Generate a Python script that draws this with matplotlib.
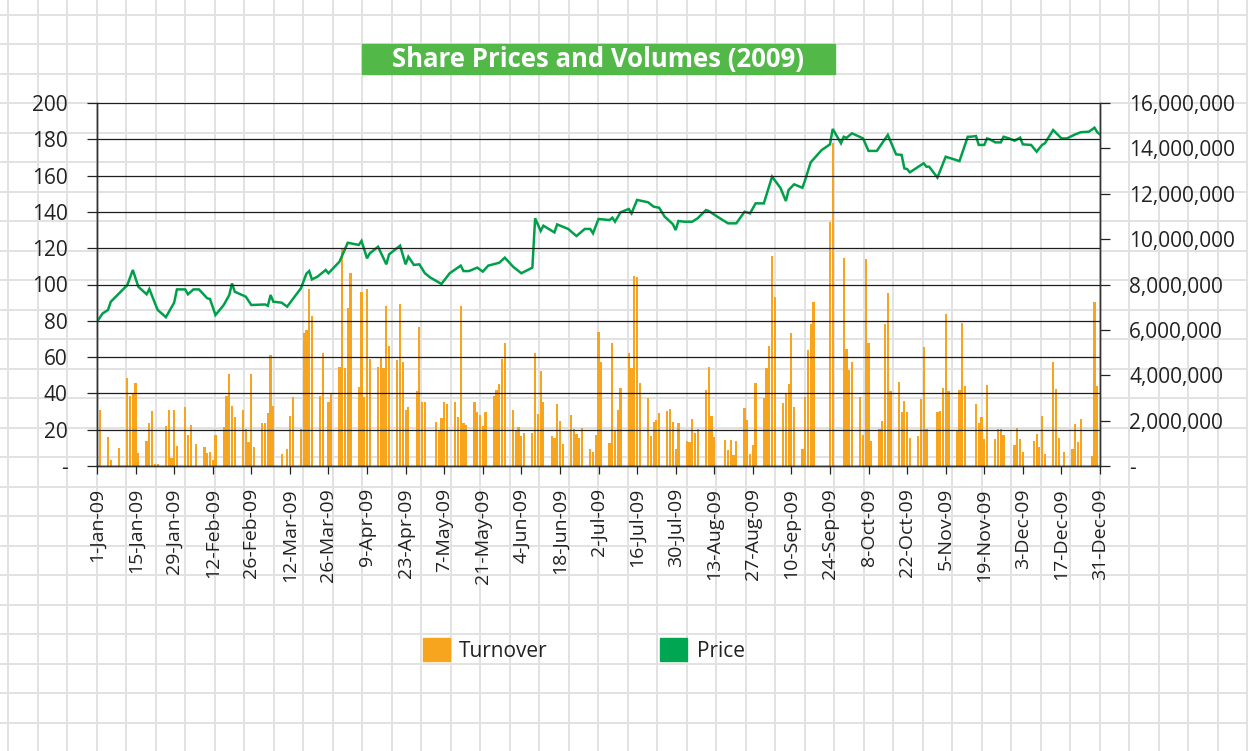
import matplotlib
matplotlib.use("Agg")
import matplotlib.pyplot as plt
from matplotlib.patches import Rectangle, Patch
import numpy as np
import datetime as dt

plt.rcParams['font.family'] = ['Open Sans', 'DejaVu Sans']

# ---------------- data (day offsets from 1-Jan-2009) ----------------
price_days = [0, 2, 4, 5, 11, 13, 15, 18, 19, 22, 25, 28, 29, 32, 33, 35, 37, 40, 41, 43,
              46, 48, 49, 50, 54, 56, 61, 62, 63, 64, 67, 69, 74, 76, 77, 78, 80, 83, 84, 88,
              91, 95, 96, 98, 99, 102, 105, 106, 110, 112, 113, 115, 117, 119, 121, 125, 128,
              132, 133, 135, 138, 140, 142, 146, 148, 151, 154, 158, 159, 161, 162, 166, 167,
              171, 174, 177, 179, 180, 182, 186, 187, 188, 190, 193, 194, 196, 200, 202, 204,
              206, 209, 210, 211, 213, 216, 218, 221, 222, 225, 229, 232, 235, 237, 239, 242,
              245, 248, 250, 251, 253, 256, 257, 259, 263, 266, 267, 270, 271, 272, 274, 278,
              280, 283, 287, 290, 292, 293, 294, 295, 300, 301, 302, 305, 308, 313, 316, 317,
              319, 320, 322, 323, 324, 326, 328, 329, 331, 333, 335, 336, 339, 341, 343, 344,
              347, 350, 352, 355, 357, 360, 362, 363, 364]
price_values = [79.5, 84, 86, 90.5, 99.7, 108, 98.8, 94.6, 97.5, 86, 82, 90, 97.3, 97.3, 94.6,
                97.3, 97.3, 92.4, 92, 83.2,
                88.7, 94.2, 100.6, 96, 93.3, 88.7, 89, 88.3, 94.2, 90.5, 90, 87.8, 97.9, 106,
                107.4, 102.8, 104.3, 108, 106.2, 112.6,
                123, 121.8, 124, 114.4, 117.2, 120.8, 111.1, 116.6, 121.4, 111.1, 115.3, 110.8,
                111.1, 106.2, 103.8, 100.3, 106.2,
                110.4, 107.4, 107.4, 109.3, 107.1, 110.4, 112, 114.8, 109.8, 106.2, 109.3, 136.5,
                129.5, 132.4, 128.7, 133.1,
                130.6, 126.7, 130.6, 130.6, 128.2, 136.1, 135.5, 136.8, 134.6, 139.8, 141.6,
                139.2, 146.6, 145.3, 142.9, 142.3,
                137.4, 133.2, 130, 135, 134.6, 134.6, 136.5, 141, 140.5, 137.5, 133.7, 133.7,
                140.1, 139.2, 144.7, 144.7,
                159.4, 153.3, 146, 152.1, 155.2, 153.3, 157.6, 167.3, 174.1, 177.2, 185.7, 177.8,
                181.4, 180.8, 183.3, 180.5,
                173.6, 173.6, 182.4, 171.7, 171.4, 164, 163.6, 161.8, 166.8, 164.9, 164.9, 158.9,
                170.4, 168, 181.4, 181.4,
                181.8, 176.9, 176.9, 180.5, 180, 178.3, 178.3, 181.4, 180.5, 179.2, 180.9, 177.2,
                176.9, 173.2, 176.9, 177.8,
                185.1, 180.5, 180.5, 182.7, 183.9, 184.2, 186.4, 183.9, 182.7]

turnover_days = [1, 4, 5, 8, 11, 12, 13, 14, 15, 18, 19, 20, 21, 22, 25, 26, 27, 28, 29,
                 32, 33, 34, 36, 39, 40, 41, 42, 43,
                 46, 47, 48, 49, 50, 53, 54, 55, 56, 57, 60, 61, 62, 63, 64, 67, 69, 70, 71,
                 74, 75, 76, 77, 78, 81, 82, 84, 85, 88, 89, 90, 91, 92,
                 95, 96, 97, 98, 99, 102, 103, 104, 105, 106, 109, 110, 111, 112, 113,
                 116, 117, 118, 119, 123, 124, 125, 126, 127, 130, 131, 132, 133, 134,
                 137, 138, 139, 140, 141, 144, 145, 146, 147, 148, 151, 152, 153, 154, 155,
                 158, 159, 160, 161, 162, 165, 166, 167, 168, 169, 172, 173, 174, 175, 176,
                 179, 180, 181, 182, 183, 186, 187, 188, 189, 190, 193, 194, 195, 196, 197,
                 200, 201, 202, 203, 204, 207, 208, 209, 210, 211, 214, 215, 216, 217, 218,
                 221, 222, 223, 224, 228, 229, 230, 231, 232, 235, 236, 237, 238, 239,
                 242, 243, 244, 245, 246, 249, 250, 251, 252, 253, 256, 257, 258, 259, 260,
                 266, 267, 271, 272, 273, 274, 277, 278, 279, 280, 281, 284, 285, 286, 287, 288,
                 291, 292, 293, 294, 295, 298, 299, 300, 301, 305, 306, 307, 308, 309,
                 312, 313, 314, 315, 319, 320, 321, 322, 323, 326, 327, 328, 329,
                 333, 334, 335, 336, 340, 341, 342, 343, 344, 347, 348, 349, 351,
                 354, 355, 356, 357, 361, 362, 363]
turnover_millions = [2.47, 1.26, 0.26, 0.78, 3.86, 3.09, 3.23, 3.64, 0.56, 1.1, 1.88, 2.42, 0.07,
                     0.07, 1.76, 2.47, 0.34, 2.47, 0.88,
                     2.62, 1.37, 1.81, 0.96, 0.85, 0.59, 0.6, 0.26, 1.37,
                     1.73, 3.09, 4.04, 2.66, 2.16, 2.47, 1.62, 1.04, 4.04, 0.85, 1.88, 1.88, 2.35,
                     4.89, 2.64, 0.53, 0.75, 2.2, 3.04,
                     1.62, 5.88, 5.98, 7.8, 6.61, 3.09, 4.97, 2.84, 3.17, 4.38, 9.56, 4.3, 6.95, 8.52,
                     3.48, 7.65, 3.04, 7.8, 4.7, 4.36, 4.82, 4.33, 7.05, 5.29, 4.66, 7.13, 4.6, 2.47, 2.6,
                     3.31, 6.11, 2.84, 2.84, 1.95, 1.54, 2.1, 2.84, 2.72, 2.84, 2.15, 7.07, 1.88, 1.81,
                     2.84, 2.37, 2.25, 1.78, 2.37, 3.09, 3.34, 3.6, 4.7, 5.41, 2.47, 1.54, 1.73, 1.34, 1.47,
                     1.47, 5.0, 2.29, 4.19, 2.84, 1.32, 1.22, 2.72, 2.0, 0.96, 2.25, 1.62, 1.4, 1.22, 1.66,
                     0.73, 0.63, 1.37, 5.92, 4.57, 1.0, 5.44, 1.54, 2.47, 3.42, 4.97, 4.3, 8.37, 8.32, 3.64,
                     2.98, 1.34, 1.92, 2.03, 2.32, 2.42, 2.51, 1.92, 0.75, 1.88, 1.1, 1.04, 2.06, 1.44, 1.63,
                     3.34, 4.38, 2.2, 1.29, 1.15, 0.71, 1.15, 0.48, 1.1, 2.54, 2.03, 0.53, 0.93, 3.67,
                     2.98, 4.3, 5.29, 9.26, 7.43, 2.79, 3.23, 3.61, 5.88, 2.62, 0.73, 3.04, 5.11, 6.26, 7.21,
                     10.77, 14.22, 9.15, 5.16, 4.23, 4.6, 3.06, 1.37, 9.11, 5.41, 1.1, 1.62, 2.0, 6.26, 7.64, 3.31,
                     3.72, 2.37, 2.88, 2.37, 1.22, 1.32, 2.95, 5.26, 1.62, 2.37, 2.42, 3.45, 6.7, 3.32,
                     1.54, 3.35, 6.29, 3.53, 2.72, 1.88, 2.17, 1.19, 3.57, 1.18, 1.62, 1.62, 1.37,
                     0.93, 1.66, 1.18, 0.6, 1.1, 1.4, 0.85, 2.2, 0.53, 4.57, 3.39, 1.22, 0.63,
                     0.75, 1.84, 1.04, 2.07, 0.44, 7.21, 3.53]

x_tick_labels = ['1-Jan-09', '15-Jan-09', '29-Jan-09', '12-Feb-09', '26-Feb-09', '12-Mar-09',
                 '26-Mar-09', '9-Apr-09', '23-Apr-09', '7-May-09', '21-May-09', '4-Jun-09',
                 '18-Jun-09', '2-Jul-09', '16-Jul-09', '30-Jul-09', '13-Aug-09', '27-Aug-09',
                 '10-Sep-09', '24-Sep-09', '8-Oct-09', '22-Oct-09', '5-Nov-09', '19-Nov-09',
                 '3-Dec-09', '17-Dec-09', '31-Dec-09']
price_ticks = [0, 20, 40, 60, 80, 100, 120, 140, 160, 180, 200]
turnover_ticks = [0, 2e6, 4e6, 6e6, 8e6, 10e6, 12e6, 14e6, 16e6]

title_text = 'Share Prices and Volumes (2009)'

# ---------------- figure ----------------
W, H = 1248, 751
fig = plt.figure(figsize=(W / 100, H / 100), dpi=100)

# grid-paper background
bg = fig.add_axes([0, 0, 1, 1], zorder=-10)
bg.set_xlim(0, W)
bg.set_ylim(H, 0)
bg.axis('off')
for xv in np.arange(8.3, W, 29.5):
    bg.axvline(xv, color='#e2e2e2', lw=1.4, zorder=0)
for yv in np.arange(103 - 29.5 * 3, H, 29.5):
    bg.axhline(yv, color='#e2e2e2', lw=1.4, zorder=0)

# title box
bg.add_patch(Rectangle((362, 44), 473, 29.5, color='#52b848', zorder=2))
bg.text(598.5, 60, title_text, color='white', fontsize=18.5, fontweight='bold',
        ha='center', va='center', zorder=3)

L, R, T, B = 97, 1100, 103, 466
ax = fig.add_axes([L / W, 1 - B / H, (R - L) / W, (B - T) / H])
ax2 = ax.twinx()

tick_days = [(dt.datetime.strptime(s, '%d-%b-%y') - dt.datetime(2009, 1, 1)).days
             for s in x_tick_labels]

ax2.bar(turnover_days, [v * 1e6 for v in turnover_millions], width=0.8,
        color='#f7a51f', linewidth=0)
ax.plot(price_days, price_values, color='#00a04b', lw=1.8, solid_joinstyle='miter')

ax.set_zorder(ax2.get_zorder() + 1)
ax.patch.set_visible(False)
ax2.patch.set_visible(False)

ax.set_xlim(0, 364)
ax.set_ylim(0, 200)
ax2.set_ylim(0, 16e6)

ax.set_yticks(price_ticks)
ax.set_yticklabels(['-'] + [str(v) for v in price_ticks[1:]])
ax2.set_yticks(turnover_ticks)
ax2.set_yticklabels(['-'] + ['{:,}'.format(int(v)) for v in turnover_ticks[1:]])
ax.set_xticks(tick_days)
ax.set_xticklabels(x_tick_labels, rotation=90)

ax.yaxis.grid(True, color='#1e1e1e', lw=0.9)
ax.set_axisbelow(False)

for a in (ax, ax2):
    a.spines['top'].set_visible(False)
    for s in ('left', 'right', 'bottom'):
        a.spines[s].set_color('#333333')
        a.spines[s].set_linewidth(1.0)

ax.tick_params(axis='y', direction='out', length=7, width=0.9, pad=14,
               labelsize=15, colors='#222222')
ax2.tick_params(axis='y', direction='out', length=7, width=0.9, pad=14,
                labelsize=15, colors='#222222')
ax.tick_params(axis='x', direction='out', length=6, width=0.9, pad=10,
               labelsize=14, colors='#222222')

fig.legend(handles=[Patch(color='#f7a51f', label='Turnover'),
                    Patch(color='#00a651', label='Price')],
           loc='center', bbox_to_anchor=(0.4676, 0.1345), ncol=2, frameon=False,
           fontsize=15, handlelength=1.3, handleheight=1.3, handletextpad=0.45,
           columnspacing=5.4, labelcolor='#222222')

fig.savefig('out.png', dpi=100)
